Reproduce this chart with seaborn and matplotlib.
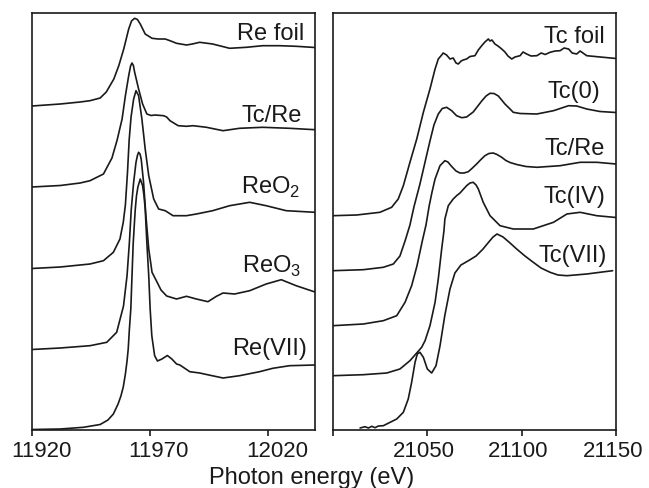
import matplotlib
matplotlib.use('Agg')
import matplotlib.pyplot as plt
import matplotlib.transforms as mtransforms
import seaborn as sns

# Re L3-edge spectra (left panel), stacked, arbitrary units
re_foil_e = [11920, 11932, 11940.4, 11944.6, 11948.9, 11951.5, 11954.7, 11956.8, 11958.9, 11961.0,
             11962.2, 11963.5, 11964.7, 11965.9, 11968.0, 11970.9, 11973.5, 11976.5, 11978.5, 11981.3,
             11985.5, 11988.0, 11991.1, 11996.6, 12003.8, 12010.9, 12017.8, 12024.9, 12032.0, 12040]
re_foil_y = [324, 326, 328, 329.3, 332, 338, 351, 364.3, 381, 401,
             409, 411.7, 410.5, 406, 396, 391.7, 391, 391, 389.3, 386.7,
             385, 386, 387.7, 386, 381.7, 382.7, 384.3, 384.3, 383.7, 382.5]

tcre_l_e = [11920, 11932, 11940.4, 11944.6, 11950.3, 11953.9, 11956.1, 11958.2, 11959.6, 11961.0,
            11961.8, 11962.4, 11963.0, 11963.5, 11965.2, 11966.9, 11968.7, 11970.5, 11972.2, 11975.8,
            11977.1, 11978.5, 11982.0, 11985.5, 11988.3, 11994.0, 12001.0, 12008.0, 12017.8, 12029.2,
            12040]
tcre_l_y = [243, 244.5, 247, 249.3, 256, 272, 290, 311, 334.3, 354.3,
            364, 367, 364.5, 358, 341, 326, 316, 314.5, 315, 314.3,
            313, 309.3, 304.3, 303.7, 304.3, 302.7, 299.3, 301.7, 302.7, 301.7,
            300.3]

reo2_e = [11920, 11932, 11944.6, 11950.3, 11954.5, 11957.3, 11958.7, 11959.6, 11960.5, 11961.2,
          11962.0, 11963.1, 11964.1, 11965.2, 11966.6, 11968.0, 11969.5, 11971.6, 11973.7, 11976.5,
          11979.8, 11985.5, 11989.7, 11996.6, 12003.8, 12012.3, 12019.3, 12027.8, 12040]
reo2_y = [161.5, 163, 166, 169.3, 177.7, 191, 207.7, 225, 258, 290,
          313, 331, 339.3, 334.3, 311, 281, 254.3, 231, 221, 219.3,
          214.3, 214.3, 216, 219.3, 224.3, 227.7, 224.3, 219.3, 217.7]

reo3_e = [11920, 11932, 11944.6, 11951.7, 11955.9, 11958.8, 11960.3, 11961.3, 11962.1, 11963.1,
          11964.1, 11964.7, 11965.2, 11965.8, 11966.3, 11967.3, 11968.3, 11969.5, 11970.9, 11973.0,
          11974.7, 11977.1, 11981.3, 11985.5, 11989.7, 11994.6, 11998.2, 12001.0, 12005.9, 12012.3,
          12019.3, 12025.7, 12032.0, 12040]
reo3_y = [80.5, 82, 84.3, 87.7, 97.7, 124, 154.3, 187.7, 221, 247.7,
          267.7, 274.5, 277.7, 276, 271, 247.7, 214.3, 181, 157.7, 148,
          140, 134, 131, 133.7, 131, 128.3, 133.7, 137, 136, 139.3,
          146, 150.3, 144.3, 138]

re7_e = [11920, 11932, 11941.8, 11948.9, 11952.2, 11954.5, 11956.5, 11957.7, 11958.7, 11959.6,
         11960.3, 11960.8, 11961.3, 11961.9, 11962.4, 11962.9, 11963.4, 11963.8, 11964.3, 11964.9,
         11965.9, 11966.9, 11967.5, 11968.0, 11968.7, 11969.5, 11970.1, 11970.8, 11972.0, 11973.2,
         11975.1, 11977.4, 11979.3, 11981.3, 11982.7, 11986.9, 11991.1, 11994.0, 12001.0, 12008.0,
         12016.5, 12022.1, 12029.2, 12040]
re7_y = [0.5, 1, 2.7, 5.5, 10, 16, 26, 34, 43, 56,
         69, 81, 101, 121, 154, 186, 206, 221, 234, 243,
         251, 244.3, 234, 221, 187.7, 154.3, 121, 94.3, 74.3, 69,
         71, 74.5, 71, 66, 65, 58.3, 57, 55.5, 52, 54.3,
         58.3, 61.7, 64.3, 65]

# Tc K-edge spectra (right panel)
tc_foil_e = [21000, 21012.7, 21025.0, 21031.2, 21034.7, 21037.4, 21040.9, 21044.5, 21048.0, 21051.5,
             21054.2, 21055.9, 21057.7, 21058.5, 21060.3, 21062.1, 21063.8, 21065.3, 21066.5, 21068.0,
             21069.1, 21070.9, 21072.7, 21074.3, 21075.3, 21077.1, 21078.9, 21080.6, 21082.4, 21083.3,
             21084.3, 21085.9, 21087.5, 21089.5, 21091.2, 21092.8, 21094.8, 21096.5, 21099.2, 21100.8,
             21102.7, 21105.0, 21108.1, 21110.4, 21112.5, 21115.1, 21117.8, 21120.4, 21122.5, 21124.9,
             21126.8, 21129.2, 21131.0, 21134.5, 21138.9, 21143.3, 21150]
tc_foil_y = [214.3, 215, 217.7, 222.7, 231, 244.3, 267.7, 291, 317.7, 341,
             361, 371, 375, 377, 375, 371, 372, 367, 366, 369,
             370, 371, 373.5, 374, 374.3, 380, 384.3, 388, 391, 389,
             390, 386, 384, 381, 378, 374, 371, 373, 374.3, 378,
             376, 374, 374.3, 377, 375.5, 377.7, 379, 379.3, 382, 381,
             377, 376, 379, 374.3, 373.5, 372.7, 371.5]

tc0_e = [21000, 21016.2, 21026.8, 21032.1, 21035.6, 21038.3, 21040.9, 21043.0, 21046.2, 21048.9,
         21051.5, 21053.6, 21055.9, 21058.0, 21060.3, 21063.0, 21065.6, 21068.3, 21070.9, 21074.4,
         21078.9, 21081.2, 21083.3, 21085.4, 21087.7, 21091.2, 21093.9, 21095.6, 21099.2, 21108.1,
         21116.9, 21124.9, 21129.2, 21134.5, 21141.5, 21150]
tc0_y = [159.3, 160.3, 162.7, 166, 174, 189, 205, 223, 246, 268,
         289, 305, 316, 321.5, 322.7, 319.3, 314.3, 312.3, 313, 318,
         329, 334, 336.7, 336.5, 334, 326, 321, 317.7, 316.5, 316,
         319.3, 324.3, 324, 321, 318.5, 317.5]

tcre_r_e = [21000, 21016.2, 21026.8, 21033.9, 21038.3, 21041.8, 21044.6, 21047.5, 21049.4, 21051.1,
            21052.6, 21054.2, 21056.8, 21059.4, 21061.0, 21063.0, 21065.3, 21067.4, 21069.5, 21071.8,
            21073.7, 21076.2, 21078.5, 21080.6, 21082.7, 21085.0, 21087.0, 21089.5, 21091.7, 21093.9,
            21097.4, 21102.3, 21108.1, 21120.4, 21131.0, 21139.8, 21150]
tcre_r_y = [104.3, 106, 109.3, 114.3, 127.7, 144.3, 164, 189.5, 205, 224.3,
            238, 251, 264.3, 269.3, 268, 263.5, 259, 257, 257, 258.3,
            261.5, 266, 270.5, 274.3, 276.5, 277, 275.5, 272.7, 269.5, 267.5,
            265.5, 263.5, 262.7, 264.3, 267.7, 267.7, 266]

tc4_e = [21000, 21016.2, 21028.6, 21035.6, 21040.9, 21044.8, 21047.1, 21048.9, 21051.5, 21054.2,
         21055.9, 21057.7, 21058.9, 21059.4, 21061.2, 21063.8, 21065.6, 21067.4, 21070.9, 21072.7,
         21074.4, 21075.9, 21077.1, 21079.7, 21083.3, 21088.6, 21095.6, 21106.2, 21116.9, 21124.0,
         21131.0, 21139.8, 21150]
tc4_y = [54.3, 55.3, 57, 61, 69.3, 77.7, 82.7, 89.3, 104.3, 127.7,
         151, 181, 199, 211, 224.3, 231, 234.3, 237, 244.3, 247,
         247.7, 245, 241, 227.7, 214.3, 204.3, 201, 201, 207.7, 216,
         217.7, 214.3, 212.5]

tc7_e = [21014.5, 21017.1, 21018.9, 21020.7, 21022.4, 21024.2, 21026.8, 21028.6, 21033.9, 21037.4,
         21040.0, 21041.8, 21043.6, 21044.8, 21046.2, 21048.0, 21050.1, 21052.4, 21054.7, 21056.8,
         21059.4, 21062.1, 21064.7, 21067.9, 21071.6, 21075.9, 21079.6, 21082.2, 21084.9, 21087.0,
         21090.2, 21093.9, 21097.4, 21101.8, 21106.2, 21110.3, 21115.1, 21119.3, 21124.0, 21134.5,
         21141.5, 21148.2]
tc7_y = [2, 3.3, 2, 3.7, 2.3, 4, 4.3, 6, 11, 17.7,
         31, 47.7, 67.7, 76, 77.7, 72.7, 61, 57, 64.3, 84,
         115, 141, 157, 165, 169, 174, 181, 187, 193, 196,
         193, 187, 181, 174, 167.7, 162, 157.7, 155, 154.3, 156,
         157.7, 159.3]

re_curves = [(re_foil_e, re_foil_y), (tcre_l_e, tcre_l_y), (reo2_e, reo2_y),
             (reo3_e, reo3_y), (re7_e, re7_y)]
tc_curves = [(tc_foil_e, tc_foil_y), (tc0_e, tc0_y), (tcre_r_e, tcre_r_y),
             (tc4_e, tc4_y), (tc7_e, tc7_y)]

re_labels = ['Re foil', 'Tc/Re', r'ReO$_\mathregular{2}$', r'ReO$_\mathregular{3}$', 'Re(VII)']
re_label_pos = [(0.961, 0.938), (0.955, 0.742), (0.949, 0.570), (0.953, 0.380), (0.973, 0.182)]
tc_labels = ['Tc foil', 'Tc(0)', 'Tc/Re', 'Tc(IV)', 'Tc(VII)']
tc_label_pos = [(0.961, 0.930), (0.943, 0.798), (0.961, 0.662), (0.961, 0.546), (0.968, 0.406)]

sns.set_style('ticks')
plt.rcParams['font.family'] = ['Liberation Sans', 'DejaVu Sans']
plt.rcParams['mathtext.fontset'] = 'custom'
plt.rcParams['mathtext.rm'] = 'Liberation Sans'
plt.rcParams['axes.linewidth'] = 1.2

ink = '#1a1a1a'
fig = plt.figure(figsize=(6.49, 4.89), dpi=100)
ax_re = fig.add_axes([32 / 649, 58 / 489, 283 / 649, 417 / 489])
ax_tc = fig.add_axes([332.7 / 649, 58 / 489, 283.3 / 649, 417 / 489])

for ax, curves, labels, pos in [(ax_re, re_curves, re_labels, re_label_pos),
                                (ax_tc, tc_curves, tc_labels, tc_label_pos)]:
    for e, y in curves:
        sns.lineplot(x=e, y=y, ax=ax, color=ink, linewidth=1.2, estimator=None, sort=False)
    for lab, (px, py) in zip(labels, pos):
        ax.text(px, py, lab, transform=ax.transAxes, ha='right', va='baseline',
                fontsize=17, color=ink)
    ax.set_ylim(0, 417)
    ax.set_yticks([])
    ax.set_xlabel('')
    ax.set_ylabel('')
    for s in ax.spines.values():
        s.set_visible(True)
        s.set_color(ink)
    ax.tick_params(axis='x', direction='out', length=4, width=1.2, pad=3,
                   labelsize=16, colors=ink)

ax_re.set_xlim(11920, 12040)
ax_re.set_xticks([11920, 11970, 12020])
ax_tc.set_xlim(21000, 21150)
ax_tc.set_xticks([21000, 21050, 21100, 21150])
ax_tc.set_xticklabels(['', '21050', '21100', '21150'])

# tick labels in the original sit a little off their ticks
for ax, dx in [(ax_re, 9), (ax_tc, -3)]:
    shift = mtransforms.ScaledTranslation(dx / 100, 0, fig.dpi_scale_trans)
    for lab in ax.get_xticklabels():
        lab.set_transform(lab.get_transform() + shift)

fig.text(312 / 649, 5 / 489, 'Photon energy (eV)', ha='center', va='baseline',
         fontsize=17, color=ink)

fig.savefig('out.png', dpi=100)
